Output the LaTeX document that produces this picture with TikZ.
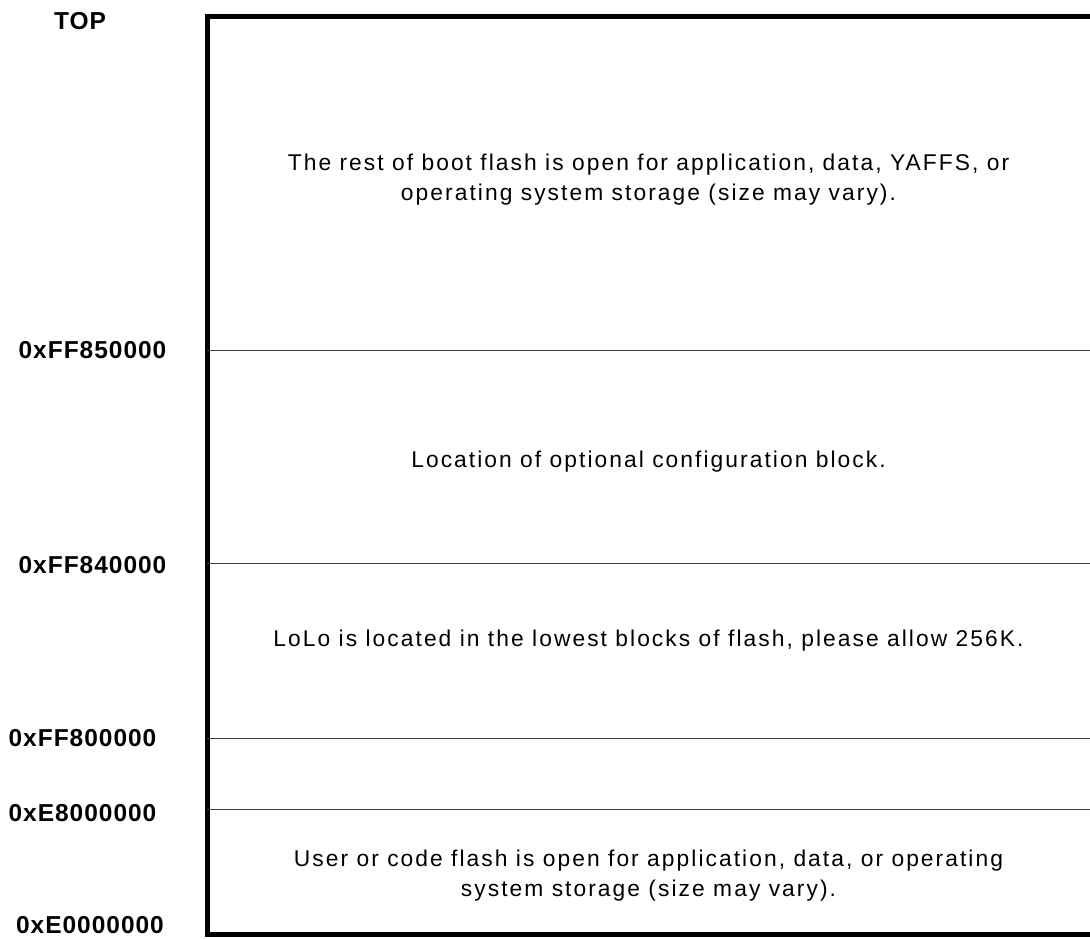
\documentclass[tikz,border=0pt]{standalone}
\usepackage{fontspec}
\setmainfont{Liberation Sans}
\newfontfamily\bodyfont{Liberation Sans}[LetterSpace=9]
\newfontfamily\addrfont{Liberation Sans}[LetterSpace=4]
\begin{document}
\begin{tikzpicture}[x={(1pt,0pt)},y={(0pt,-1pt)},
  addr/.style={inner sep=0pt,font=\addrfont\fontsize{24.5}{28}\selectfont\bfseries},
  body/.style={inner sep=0pt,align=center,font=\bodyfont\fontsize{22.8}{30}\selectfont},
  frame/.style={line width=5pt,line join=miter,line cap=butt},
  divider/.style={line width=1pt,draw=black!75}]
\useasboundingbox (0,0) rectangle (1090,938);
% frame corners
\coordinate (tr) at (1090,16);
\coordinate (tl) at (207,16);
\coordinate (bl) at (207,934.5);
\coordinate (br) at (1090,934.5);
\draw[frame] (tr) -- (tl) -- (bl) -- (br);
% dividers
\foreach \n/\y in {d850/350,d840/563,d800/738,de8/809}{
  \coordinate (\n l) at (207,\y);
  \coordinate (\n r) at (1090,\y);
  \draw[divider] (\n l) -- (\n r);
}
% address labels
\node[addr] (top) at (80,21) {TOP};
\node[addr] (a850) at (92.5,350.5) {0xFF850000};
\node[addr] (a840) at (92.5,565) {0xFF840000};
\node[addr] (a800) at (82.5,738) {0xFF800000};
\node[addr] (ae8) at (82.5,813) {0xE8000000};
\node[addr] (ae0) at (90,925) {0xE0000000};
% region texts
\node[body] (boot) at (648.5,179.8) {The rest of boot flash is open for application, data, YAFFS, or\\operating system storage (size may vary).};
\node[body] (cfg) at (648.5,461.4) {Location of optional configuration block.};
\node[body] (lolo) at (648.5,640.8) {LoLo is located in the lowest blocks of flash, please allow 256K.};
\node[body] (user) at (648.5,875.1) {User or code flash is open for application, data, or operating\\system storage (size may vary).};
\end{tikzpicture}
\end{document}
